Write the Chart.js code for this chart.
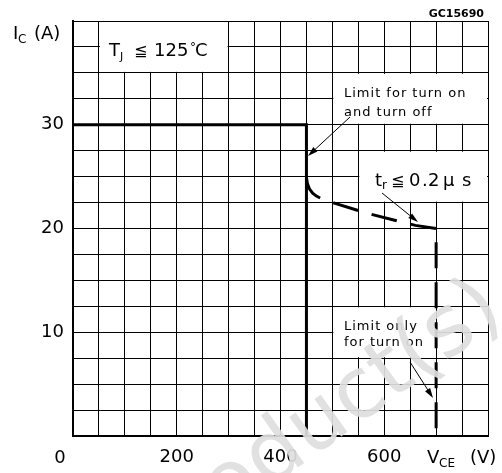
<!DOCTYPE html>
<html>
<head>
<meta charset="utf-8">
<script src="https://cdn.jsdelivr.net/npm/chart.js@4/dist/chart.umd.min.js"></script>
<style>
  html, body { margin: 0; padding: 0; background: #fff; }
</style>
</head>
<body>
<canvas id="soa-chart" width="502" height="473"></canvas>
<script>
// Limite pour mise en marche et arrêt (trait plein)
const limitVce = [0, 450, 450];
const limitIc = [30, 30, 0];

// Limite seulement pour mise en marche (tirets)
const turnOnVce = [450, 452, 456, 462, 470, 480, 507, 565, 620, 660, 700, 700];
const turnOnIc = [24.9, 24.3, 23.8, 23.4, 23.1, 22.85, 22.4, 21.5, 20.8, 20.3, 20.0, 0];

// Étiquettes des axes
const xTickValues = [200, 400, 600];
const yTickValues = [10, 20, 30];

const FONT = '"DejaVu Sans", sans-serif';

function toPoints(xs, ys) {
  return xs.map((x, i) => ({ x: x, y: ys[i] }));
}

// Petit utilitaire pour les flèches
function arrow(ctx, x1, y1, x2, y2) {
  const a = Math.atan2(y2 - y1, x2 - x1);
  ctx.beginPath();
  ctx.moveTo(x1, y1);
  ctx.lineTo(x2 - 6 * Math.cos(a), y2 - 6 * Math.sin(a));
  ctx.lineWidth = 1;
  ctx.strokeStyle = '#000';
  ctx.stroke();
  ctx.beginPath();
  ctx.moveTo(x2, y2);
  ctx.lineTo(x2 - 10 * Math.cos(a) + 3 * Math.sin(a), y2 - 10 * Math.sin(a) - 3 * Math.cos(a));
  ctx.lineTo(x2 - 10 * Math.cos(a) - 3 * Math.sin(a), y2 - 10 * Math.sin(a) + 3 * Math.cos(a));
  ctx.closePath();
  ctx.fillStyle = '#000';
  ctx.fill();
}

function txt(ctx, s, x, y, size, align, weight) {
  ctx.font = (weight || 'normal') + ' ' + size + 'px ' + FONT;
  ctx.textAlign = align || 'left';
  ctx.textBaseline = 'alphabetic';
  ctx.fillStyle = '#000';
  ctx.fillText(s, x, y);
}

// Cadres blancs qui masquent la grille sous les annotations
const boxesPlugin = {
  id: 'boxes',
  beforeDatasetsDraw(chart) {
    const { ctx, scales: { x, y } } = chart;
    const boxes = [[50, 300, 35, 40], [500, 800, 30, 35], [550, 800, 22.5, 27.5], [500, 700, 7.5, 12.5]];
    ctx.save();
    ctx.fillStyle = '#fff';
    boxes.forEach(b => {
      const x1 = x.getPixelForValue(b[0]), x2 = x.getPixelForValue(b[1]);
      const y1 = y.getPixelForValue(b[3]), y2 = y.getPixelForValue(b[2]);
      ctx.fillRect(x1 + 1, y1 + 1, x2 - x1 - 2, y2 - y1 - 2);
    });
    ctx.restore();
  },
  afterDraw(chart) {
    const ctx = chart.ctx;
    ctx.save();
    // titre axe Y
    txt(ctx, 'I', 13, 39, 18);
    txt(ctx, 'C', 18, 43, 12);
    txt(ctx, '(A)', 34, 39, 18);
    // titre axe X
    txt(ctx, '0', 60, 463, 18, 'center');
    txt(ctx, 'V', 427, 463, 18);
    txt(ctx, 'CE', 439, 467, 12);
    txt(ctx, '(V)', 470, 463, 18);
    txt(ctx, 'GC15690', 484, 17, 11, 'right', 'bold');
    // T_J <= 125 °C
    txt(ctx, 'T', 109, 56, 18);
    txt(ctx, 'J', 120, 60, 11);
    txt(ctx, '\u2266', 134, 56, 16);
    txt(ctx, '125', 154, 56, 18);
    txt(ctx, '\u00b0', 190, 51, 12);
    txt(ctx, 'C', 195, 56, 18);
    // tr <= 0.2 us
    txt(ctx, 't', 375, 186, 18);
    txt(ctx, 'r', 382, 189, 12);
    txt(ctx, '\u2266', 391, 186, 16);
    txt(ctx, '0', 409, 186, 18);
    txt(ctx, '.', 422, 186, 18);
    txt(ctx, '2', 428, 186, 18);
    txt(ctx, '\u03bc', 443, 186, 18);
    txt(ctx, 's', 462, 186, 18);
    // textes des limites
    ctx.letterSpacing = '1px';
    txt(ctx, 'Limit for turn on', 344, 97, 13);
    txt(ctx, 'and turn off', 344, 116, 13);
    txt(ctx, 'Limit only', 344, 330, 13);
    txt(ctx, 'for turn on', 344, 346, 13);
    ctx.letterSpacing = '0px';
    arrow(ctx, 350, 117, 308, 156);
    arrow(ctx, 382, 193, 418, 222);
    arrow(ctx, 410, 362, 433, 398);
    // filigrane
    ctx.translate(507, 318);
    ctx.rotate(-0.62);
    ctx.font = '84px ' + FONT;
    ctx.textAlign = 'right';
    ctx.fillStyle = 'rgba(222,222,222,0.92)';
    ctx.fillText('Product(s)', 0, 0);
    ctx.restore();
  }
};

const canvas = document.getElementById('soa-chart');

new Chart(canvas, {
  type: 'line',
  data: {
    datasets: [
      {
        data: toPoints(limitVce, limitIc),
        borderColor: '#000',
        borderWidth: 3,
        pointRadius: 0,
        fill: false,
        tension: 0
      },
      {
        data: toPoints(turnOnVce, turnOnIc),
        borderColor: '#000',
        borderWidth: 3,
        borderDash: [26, 14],
        pointRadius: 0,
        fill: false,
        tension: 0
      }
    ]
  },
  options: {
    responsive: false,
    animation: false,
    layout: { padding: { top: 21, right: 14, left: 0, bottom: 0 } },
    plugins: { legend: { display: false }, tooltip: { enabled: false } },
    scales: {
      x: {
        type: 'linear',
        min: 0,
        max: 800,
        afterFit: s => { s.height = 37; },
        ticks: {
          stepSize: 50,
          autoSkip: false,
          maxRotation: 0,
          padding: 11,
          color: '#000',
          font: { size: 18, family: FONT },
          callback: v => xTickValues.includes(v) ? String(v) : ''
        },
        grid: { color: '#000', lineWidth: 1, drawTicks: false },
        border: { color: '#000', width: 2 }
      },
      y: {
        min: 0,
        max: 40,
        afterFit: s => { s.width = 73; },
        ticks: {
          stepSize: 2.5,
          autoSkip: false,
          padding: 9,
          color: '#000',
          font: { size: 18, family: FONT },
          callback: v => yTickValues.includes(v) ? String(v) : ''
        },
        grid: { color: '#000', lineWidth: 1, drawTicks: false },
        border: { color: '#000', width: 2 }
      }
    }
  },
  plugins: [boxesPlugin]
});
</script>
</body>
</html>
